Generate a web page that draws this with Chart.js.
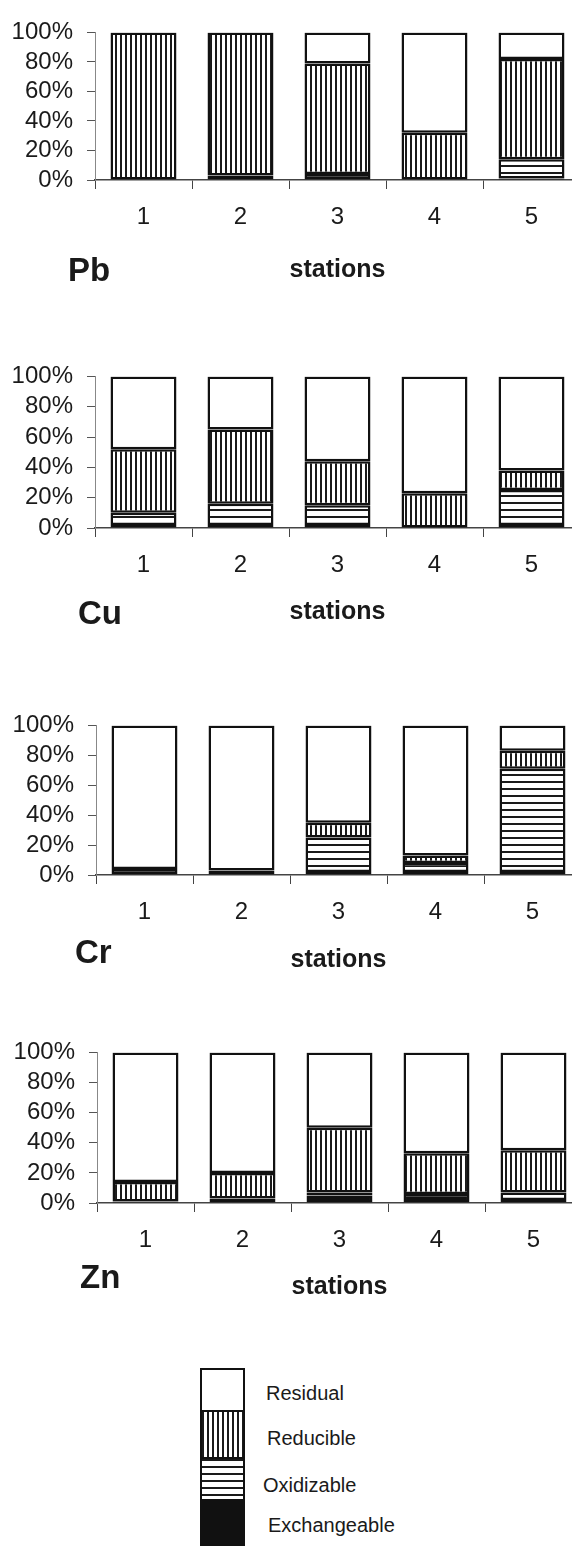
<!DOCTYPE html>
<html>
<head>
<meta charset="utf-8">
<script src="https://cdn.jsdelivr.net/npm/chart.js@4.4.1/dist/chart.umd.min.js"></script>
<style>
  html, body { margin: 0; padding: 0; overflow: hidden; background: #fff; }
  body { position: relative; width: 572px; height: 1546px; font-family: "Liberation Sans", Arial, sans-serif; color: #1a1a1a; }
  canvas { position: absolute; left: 0; }
  .metal { position: absolute; font-weight: bold; font-size: 33px; height: 40px; line-height: 40px; }
  .key { position: absolute; left: 200px; width: 45px; box-sizing: border-box; border: 2px solid #111; }
  .key-label { position: absolute; font-size: 20px; height: 24px; line-height: 24px; }
</style>
</head>
<body>
<script>
// ------------------------------------------------------------
// Data (percent of total metal per fraction, per station)
// ------------------------------------------------------------
const stations = ['1', '2', '3', '4', '5'];
const fractions = ['Exchangeable', 'Oxidizable', 'Reducible', 'Residual'];

const pbExchangeable = [0, 3, 4, 0, 1];
const pbOxidizable   = [0, 0, 0, 0, 13];
const pbReducible    = [100, 97, 75, 32, 68];
const pbResidual     = [0, 0, 21, 68, 18];

const cuExchangeable = [2, 2, 2, 0, 2];
const cuOxidizable   = [8, 14, 13, 0, 23];
const cuReducible    = [42, 49, 29, 23, 13];
const cuResidual     = [48, 35, 56, 77, 62];

const crExchangeable = [4, 3, 2, 2, 2];
const crOxidizable   = [0, 0, 23, 6, 69];
const crReducible    = [0, 0, 10, 5, 12];
const crResidual     = [96, 97, 65, 87, 17];

const znExchangeable = [1, 3, 5, 6, 2];
const znOxidizable   = [0, 0, 2, 0, 5];
const znReducible    = [13, 17, 43, 27, 28];
const znResidual     = [86, 80, 50, 67, 65];

const yTickValues = [0, 20, 40, 60, 80, 100];

// ------------------------------------------------------------
// Layout of the four stacked panels
// ------------------------------------------------------------
const CAT_W = 97;
const PAD_TOP = 20;
const PAD_RIGHT = 20;
const X_AXIS_H = 110;
const INK = '#1a1a1a';
const FONT = '"Liberation Sans", Arial, sans-serif';

const panels = [
  { name: 'Pb', series: [pbExchangeable, pbOxidizable, pbReducible, pbResidual], top: 24,   bottom: 180,  left: 95, titleY: 270,  labelX: 68, labelY: 270 },
  { name: 'Cu', series: [cuExchangeable, cuOxidizable, cuReducible, cuResidual], top: 368,  bottom: 528,  left: 95, titleY: 612,  labelX: 78, labelY: 613 },
  { name: 'Cr', series: [crExchangeable, crOxidizable, crReducible, crResidual], top: 717,  bottom: 875,  left: 96, titleY: 960,  labelX: 75, labelY: 952 },
  { name: 'Zn', series: [znExchangeable, znOxidizable, znReducible, znResidual], top: 1044, bottom: 1203, left: 97, titleY: 1287, labelX: 80, labelY: 1277 },
];

// ------------------------------------------------------------
// Hatch fills
// ------------------------------------------------------------
function makePattern(kind) {
  const c = document.createElement('canvas');
  const g = c.getContext('2d');
  if (kind === 'vertical') {
    c.width = 5; c.height = 4;
    g.fillStyle = '#fff'; g.fillRect(0, 0, 5, 4);
    g.fillStyle = INK; g.fillRect(0, 0, 2, 4);
  } else {
    c.width = 4; c.height = 7;
    g.fillStyle = '#fff'; g.fillRect(0, 0, 4, 7);
    g.fillStyle = INK; g.fillRect(0, 0, 4, 2);
  }
  return g.createPattern(c, 'repeat');
}

const FILLS = {
  Exchangeable: '#111111',
  Oxidizable: makePattern('horizontal'),
  Reducible: makePattern('vertical'),
  Residual: '#ffffff',
};

// ------------------------------------------------------------
// Panels
// ------------------------------------------------------------
function buildPanel(p) {
  const plotH = p.bottom - p.top;
  const w = p.left + stations.length * CAT_W + PAD_RIGHT;
  const h = PAD_TOP + plotH + X_AXIS_H;

  const canvas = document.createElement('canvas');
  canvas.width = w;
  canvas.height = h;
  canvas.style.width = w + 'px';
  canvas.style.height = h + 'px';
  canvas.style.top = (p.top - PAD_TOP) + 'px';
  document.body.appendChild(canvas);

  const titlePadBottom = p.bottom + X_AXIS_H - 15 - p.titleY;

  new Chart(canvas, {
    type: 'bar',
    data: {
      labels: stations,
      datasets: fractions.map((f, i) => ({
        label: f,
        data: p.series[i],
        backgroundColor: FILLS[f],
        borderColor: '#111',
        borderWidth: 2.5,
        borderSkipped: false,
        categoryPercentage: 1,
        barPercentage: 0.68,
      })),
    },
    options: {
      responsive: false,
      devicePixelRatio: 1,
      animation: false,
      layout: { padding: { top: PAD_TOP, right: PAD_RIGHT, left: 0, bottom: 0 } },
      plugins: {
        legend: { display: false },
        tooltip: { enabled: false },
      },
      scales: {
        x: {
          stacked: true,
          afterFit: (s) => { s.height = X_AXIS_H; },
          grid: { drawOnChartArea: false, offset: true, tickLength: 9, color: '#444', lineWidth: 1 },
          border: { display: true, color: '#444', width: 1.5 },
          ticks: { color: INK, padding: 14, font: { family: FONT, size: 24 } },
          title: {
            display: true,
            text: 'stations',
            color: INK,
            font: { family: FONT, size: 25, weight: 'bold' },
            padding: { top: 0, bottom: titlePadBottom },
          },
        },
        y: {
          stacked: true,
          min: 0,
          max: 100,
          afterFit: (s) => { s.width = p.left; },
          afterBuildTicks: (s) => { s.ticks = yTickValues.map(v => ({ value: v })); },
          grid: { drawOnChartArea: false, tickLength: 8, color: '#555', lineWidth: 1 },
          border: { display: true, color: '#888', width: 1, dash: [6, 3] },
          ticks: {
            autoSkip: false,
            color: INK,
            padding: 14,
            font: { family: FONT, size: 24 },
            callback: (v) => v + '%',
          },
        },
      },
    },
  });

  const lab = document.createElement('div');
  lab.className = 'metal';
  lab.textContent = p.name;
  lab.style.left = p.labelX + 'px';
  lab.style.top = (p.labelY - 20) + 'px';
  document.body.appendChild(lab);
}

panels.forEach(buildPanel);

// ------------------------------------------------------------
// Key (stacked box, like one bar)
// ------------------------------------------------------------
const keyRows = [
  { name: 'Residual',     top: 1368, bottom: 1412, textX: 266, textY: 1393, css: '#fff' },
  { name: 'Reducible',    top: 1410, bottom: 1459, textX: 267, textY: 1438, css: 'repeating-linear-gradient(90deg, #1a1a1a 0 2px, #fff 2px 5px)' },
  { name: 'Oxidizable',   top: 1457, bottom: 1501, textX: 263, textY: 1485, css: 'repeating-linear-gradient(180deg, #1a1a1a 0 2px, #fff 2px 7px)' },
  { name: 'Exchangeable', top: 1499, bottom: 1560, textX: 268, textY: 1525, css: '#111' },
];

keyRows.forEach(r => {
  const box = document.createElement('div');
  box.className = 'key';
  box.style.top = r.top + 'px';
  box.style.height = (r.bottom - r.top) + 'px';
  box.style.background = r.css;
  document.body.appendChild(box);

  const t = document.createElement('div');
  t.className = 'key-label';
  t.textContent = r.name;
  t.style.left = r.textX + 'px';
  t.style.top = (r.textY - 12) + 'px';
  document.body.appendChild(t);
});
</script>
</body>
</html>
